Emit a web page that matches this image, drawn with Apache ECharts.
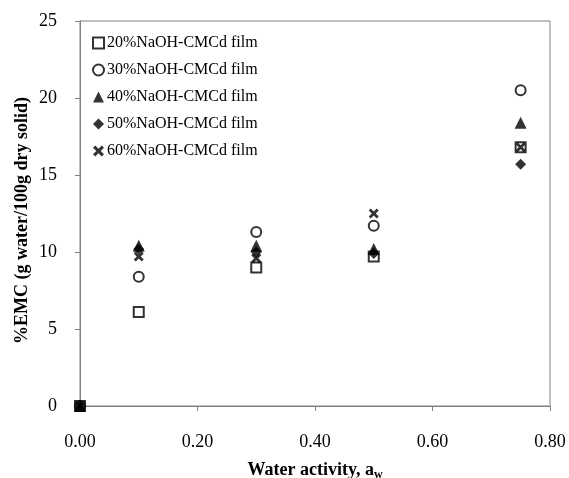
<!DOCTYPE html>
<html>
<head>
<meta charset="utf-8">
<script src="https://cdn.jsdelivr.net/npm/echarts@6/dist/echarts.min.js"></script>
<style>html,body{margin:0;padding:0;background:#fff;}#c{width:569px;height:478px;}</style>
</head>
<body>
<div id="c"></div>
<script>
var aw = [0, 0.1, 0.3, 0.5, 0.75];
var emc20 = [0, 6.1, 9.0, 9.7, 16.8];
var emc30 = [0, 8.4, 11.3, 11.7, 20.5];
var emc40 = [0, 10.4, 10.4, 10.2, 18.4];
var emc50 = [0, 10.2, 10.0, 9.9, 15.7];
var emc60 = [0, 9.7, 9.6, 12.5, 16.8];
var seriesNames = ['20%NaOH-CMCd film','30%NaOH-CMCd film','40%NaOH-CMCd film','50%NaOH-CMCd film','60%NaOH-CMCd film'];

function pairs(ys){ return aw.map(function(x,i){ return [x, ys[i]]; }); }
var FONT = 'Liberation Serif';
var xPath = 'path://M2,0 L5,3 L8,0 L10,2 L7,5 L10,8 L8,10 L5,7 L2,10 L0,8 L3,5 L0,2 Z';
var styles = [
  {symbol:'rect', size:10, itemStyle:{color:'#fff', borderColor:'#000', borderWidth:2}},
  {symbol:'circle', size:10, itemStyle:{color:'#fff', borderColor:'#000', borderWidth:2}},
  {symbol:'triangle', size:12, itemStyle:{color:'#000', borderWidth:0}},
  {symbol:'diamond', size:11, itemStyle:{color:'#000', borderWidth:0}},
  {symbol:xPath, size:10, itemStyle:{color:'#000', borderWidth:0}}
];
var dataSets = [emc20, emc30, emc40, emc50, emc60];
var series = dataSets.map(function(d,i){
  return {
    name: seriesNames[i], type:'scatter', data: pairs(d),
    symbol: styles[i].symbol, symbolSize: styles[i].size,
    itemStyle: styles[i].itemStyle, emphasis:{disabled:true}
  };
});
var chart = echarts.init(document.getElementById('c'));
chart.setOption({
  animation:false,
  textStyle:{fontFamily:FONT},
  grid:{left:80, right:19, top:21, bottom:72, show:true, borderColor:'#808080', borderWidth:1,
        containLabel:false, outerBoundsMode:'none'},
  legend:{
    orient:'vertical', left:87, top:30, itemWidth:11, itemHeight:11, itemGap:11,
    textStyle:{fontFamily:FONT, fontSize:16, color:'#000', padding:[0,0,0,-2]},
    data: seriesNames.map(function(n,i){ return {name:n, icon: styles[i].symbol}; })
  },
  xAxis:{
    type:'value', min:0, max:0.8, interval:0.2,
    name:'Water activity, a{s|w}', nameLocation:'middle', nameGap:53,
    nameTextStyle:{fontFamily:FONT, fontSize:18, fontWeight:'bold', color:'#000',
      rich:{s:{fontFamily:FONT, fontSize:12, fontWeight:'bold', color:'#000', verticalAlign:'bottom', padding:[10,0,0,0]}}},
    axisLine:{lineStyle:{color:'#808080', width:1}},
    axisTick:{inside:false, length:5, lineStyle:{color:'#808080'}},
    axisLabel:{fontFamily:FONT, fontSize:18, color:'#000', margin:27, formatter:function(v){return v.toFixed(2);}},
    splitLine:{show:false}
  },
  yAxis:{
    type:'value', min:0, max:25, interval:5,
    name:'%EMC (g water/100g dry solid)', nameLocation:'middle', nameGap:49, nameMoveOverlap:false,
    nameTextStyle:{fontFamily:FONT, fontSize:18, fontWeight:'bold', color:'#000', padding:[0,14,0,0]},
    axisLine:{show:true, lineStyle:{color:'#808080', width:1}},
    axisTick:{show:true, inside:false, length:5, lineStyle:{color:'#808080'}},
    axisLabel:{fontFamily:FONT, fontSize:18, color:'#000', margin:23},
    splitLine:{show:false}
  },
  series: series
});
</script>
</body>
</html>
